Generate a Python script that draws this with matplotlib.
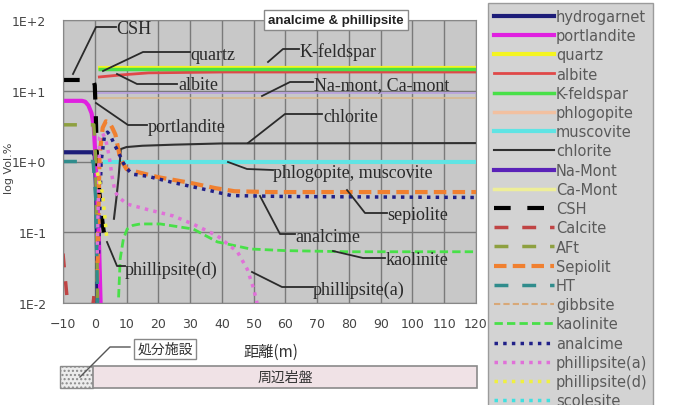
import numpy as np
import matplotlib
matplotlib.use("Agg")
import matplotlib.pyplot as plt
from matplotlib.lines import Line2D
from matplotlib.patches import Rectangle
from matplotlib.transforms import Affine2D

nan = np.nan

# ---- data ----
names = ["hydrogarnet", "portlandite", "quartz", "albite", "K-feldspar", "phlogopite",
         "muscovite", "chlorite", "Na-Mont", "Ca-Mont", "CSH", "Calcite", "AFt", "Sepiolit",
         "HT", "gibbsite", "kaolinite", "analcime", "phillipsite(a)", "phillipsite(d)", "scolesite"]

hydrogarnet_x = [-10, -0.5, 0, 0.5, 1.0]
hydrogarnet_y = [1.35, 1.35, 1.2, 0.3, 0.005]
portlandite_x = [-10, -4, -3, -2, -1, -0.3, 0.3, 0.8, 1.3, 2.0]
portlandite_y = [7.2, 7.2, 7.0, 6.2, 4.8, 3.0, 1.0, 0.3, 0.08, 0.005]
quartz_x = [1, 120]
quartz_y = [21, 21]
albite_x = [1, 8, 17, 40, 120]
albite_y = [15.6, 16.7, 17.9, 18.4, 18.4]
kfeldspar_x = [1, 120]
kfeldspar_y = [20, 20]
phlogopite_x = [2.5, 120]
phlogopite_y = [1.0, 1.0]
muscovite_x = [2.5, 120]
muscovite_y = [1.0, 1.0]
chlorite_x = [6.0, 6.8, 7.5, 8.2, 10, 15, 25, 40, 120]
chlorite_y = [0.15, 0.3, 0.6, 1.5, 1.6, 1.67, 1.73, 1.8, 1.82]
namont_x = [0, 120]
namont_y = [9.3, 9.3]
camont_x = [0, 120]
camont_y = [8.0, 8.0]
csh_x = [-10, -0.5, 0, 0.3, 0.6, 1.0, 1.5, 2.0, 2.5, 3.0]
csh_y = [14.2, 14.2, 12, 5, 1.5, 0.6, 0.35, 0.2, 0.13, 0.09]
calcite_x = [-10, -9.4, -8.8, -8.5, nan, -0.8, -0.4, 0.1]
calcite_y = [0.05, 0.025, 0.013, 0.009, nan, 0.008, 0.011, 0.019]
aft_x = [-10, -0.3, 0.3, 1.0]
aft_y = [3.3, 3.3, 1.0, 0.005]
sepiolit_x = [0.8, 1.5, 2.5, 3.5, 4.5, 5.5, 6.5, 8, 10, 14, 20, 30, 38, 44, 55, 120]
sepiolit_y = [0.02, 1.2, 3.0, 3.7, 3.6, 3.0, 2.4, 1.1, 0.78, 0.7, 0.6, 0.5, 0.42, 0.38, 0.37, 0.37]
ht_x = [-10, -0.5, 0.3, 1.0]
ht_y = [1.0, 1.0, 0.3, 0.005]
gibbsite_x = []
gibbsite_y = []
kaolinite_x = [7.5, 8, 9, 10.2, 12, 14.3, 20.6, 31, 38.6, 49, 60, 80, 120]
kaolinite_y = [0.012, 0.042, 0.08, 0.111, 0.125, 0.131, 0.131, 0.111, 0.073, 0.058, 0.055, 0.053, 0.053]
analcime_x = [1.2, 2, 3, 4, 5, 6, 7.4, 9, 10.2, 12, 16.5, 25, 35, 43, 60, 120]
analcime_y = [0.05, 1.0, 2.2, 2.6, 2.3, 1.8, 1.36, 0.95, 0.78, 0.66, 0.62, 0.5, 0.4, 0.33, 0.32, 0.31]
phila_x = [0.8, 1.5, 2.5, 3.5, 4.5, 5.5, 6.4, 8, 10.2, 16.5, 24.7, 31, 38.6, 44.9, 48, 50, 51.2]
phila_y = [0.05, 2.2, 2.5, 2.0, 1.2, 0.6, 0.37, 0.3, 0.25, 0.21, 0.17, 0.13, 0.089, 0.053, 0.030, 0.016, 0.0095]
phild_x = [0.8, 1.3, 2.0, 2.6, 3.2, 3.6, 3.9]
phild_y = [0.7, 0.55, 0.45, 0.3, 0.16, 0.1, 0.075]
scolesite_x = []
scolesite_y = []

xs = [hydrogarnet_x, portlandite_x, quartz_x, albite_x, kfeldspar_x, phlogopite_x,
      muscovite_x, chlorite_x, namont_x, camont_x, csh_x, calcite_x, aft_x, sepiolit_x,
      ht_x, gibbsite_x, kaolinite_x, analcime_x, phila_x, phild_x, scolesite_x]
ys = [hydrogarnet_y, portlandite_y, quartz_y, albite_y, kfeldspar_y, phlogopite_y,
      muscovite_y, chlorite_y, namont_y, camont_y, csh_y, calcite_y, aft_y, sepiolit_y,
      ht_y, gibbsite_y, kaolinite_y, analcime_y, phila_y, phild_y, scolesite_y]

# styles: colour, linewidth, linestyle
LONG = (0, (4, 4))
SHORT = (0, (3, 1.5))
DOT = (0, (1, 1.5))
styles = [
    ("#1c1c78", 3, "-"), ("#e020e0", 3, "-"), ("#f4f420", 3, "-"), ("#e04848", 2, "-"),
    ("#48e048", 2.5, "-"), ("#f2c0a0", 2.5, "-"), ("#60e4e4", 3, "-"), ("#303030", 1.5, "-"),
    ("#5a22b8", 3, "-"), ("#eeee98", 2.5, "-"), ("#000000", 3, LONG), ("#c04444", 2.5, LONG),
    ("#8ea040", 2.5, LONG), ("#f08030", 3, SHORT), ("#308c8c", 2.5, LONG), ("#d8a878", 1.5, SHORT),
    ("#48e048", 2, SHORT), ("#202088", 2.5, DOT), ("#e070d8", 2.5, DOT), ("#f0f040", 2.5, DOT),
    ("#40e0e0", 2.5, DOT)]
# thin lines inside the plot for the montmorillonites
plot_override = {"Na-Mont": ("#b8a0e0", 1.2), "Ca-Mont": ("#d8b890", 1.2)}

W, H = 678, 406
fig = plt.figure(figsize=(W / 100, H / 100), dpi=100)
fig.patch.set_facecolor("white")
px = Affine2D().scale(1 / W, -1 / H).translate(0, 1) + fig.transFigure

ax = fig.add_axes([63 / W, 1 - 304 / H, (476 - 63) / W, (304 - 21) / H])
ax.set_facecolor("#c8c8c8")
ax.set_yscale("log")
ax.set_xlim(-10, 120)
ax.set_ylim(0.01, 100)
ax.set_xticks(np.arange(-10, 121, 10))
ax.set_yticks([0.01, 0.1, 1, 10, 100])
ax.set_yticklabels(["1E-2", "1E-1", "1E+0", "1E+1", "1E+2"])
ax.minorticks_off()
ax.grid(True, color="#7a7a7a", lw=1)
ax.set_axisbelow(True)
ax.tick_params(length=0, labelsize=9, colors="#444444")
ax.tick_params(axis="x", pad=10)
ax.tick_params(axis="y", pad=12)
for s in ax.spines.values():
    s.set_color("#888888")

for i in range(len(names)):
    c, lw, ls = styles[i]
    if names[i] in plot_override:
        c, lw = plot_override[names[i]]
    ax.plot(xs[i], ys[i], color=c, lw=lw, linestyle=ls, solid_capstyle="butt")

# legend
handles = [Line2D([], [], color=c, lw=lw, linestyle=ls) for c, lw, ls in styles]
leg = fig.legend(handles, names, loc="upper left", bbox_to_anchor=(488 / W, 1 - 4 / H),
                 fontsize=10.5, frameon=True, fancybox=False, handlelength=4.1,
                 handletextpad=0.15, labelspacing=0.29, borderpad=0.4, borderaxespad=0)
leg.get_frame().set_facecolor("#c8c8c8")
leg.get_frame().set_edgecolor("#888888")
for t in leg.get_texts():
    t.set_color("#5a5a5a")

# leader lines and labels
serif = dict(family="Liberation Serif", fontsize=13, color="#2a2a2a", transform=px)
labels = [
    ("CSH", 116, 29, [(116, 28), (96, 28), (73, 75)]),
    ("quartz", 190, 56, [(190, 53), (143, 53), (103, 72)]),
    ("albite", 178, 86, [(177, 85), (137, 85), (117, 75)]),
    ("K-feldspar", 300, 52, [(299, 50), (283, 50), (268, 63)]),
    ("Na-mont, Ca-mont", 314, 86, [(313, 83), (290, 83), (262, 97)]),
    ("portlandite", 148, 128, [(147, 126), (128, 126), (96, 104)]),
    ("chlorite", 323, 117, [(322, 115), (285, 115), (248, 144)]),
    ("phlogopite, muscovite", 273, 174, [(273, 171), (247, 170), (228, 163)]),
    ("sepiolite", 387, 216, [(387, 214), (365, 214), (347, 191)]),
    ("analcime", 295, 238, [(295, 235), (280, 235), (260, 197)]),
    ("kaolinite", 386, 261, [(385, 259), (363, 259), (333, 252)]),
    ("phillipsite(a)", 313, 290, [(313, 288), (282, 288), (252, 273)]),
    ("phillipsite(d)", 125, 270, [(125, 267), (117, 267), (107, 243)]),
]
for txt, tx, ty, pts in labels:
    fig.text(tx, ty, txt, ha="left", va="center", **serif)
    pts = np.array(pts)
    fig.add_artist(Line2D(pts[:, 0], pts[:, 1], color="#2a2a2a", lw=1.3, transform=px))

fig.text(336, 21, "analcime & phillipsite", transform=px, ha="center", va="center",
         fontsize=9.5, fontweight="bold", family="Liberation Sans", color="#222222",
         bbox=dict(boxstyle="square,pad=0.3", fc="white", ec="#888888", lw=1))

# axis labels
fig.text(9, 168, "log Vol.%", transform=px, rotation=90, ha="center", va="center",
         fontsize=8, color="#444444")
fig.text(271, 352, "距離(m)", transform=px, ha="center", va="center", fontsize=11,
         family=["Noto Sans CJK JP", "DejaVu Sans"], color="#333333")

# site strip at the bottom
fig.add_artist(Rectangle((60, 389), 33, -22, transform=px, fc="#ececec", ec="#8a8a8a",
                         lw=1, hatch="....", zorder=1))
fig.add_artist(Rectangle((93, 389), 384, -22, transform=px, fc="#f0e2e6", ec="#8a8a8a",
                         lw=1.2, zorder=1))
fig.text(285, 378, "周辺岩盤", transform=px, ha="center", va="center", fontsize=10,
         family=["Noto Sans CJK JP", "DejaVu Sans"], color="#333333")
fig.text(165, 350, "処分施設", transform=px, ha="center", va="center", fontsize=10,
         family=["Noto Sans CJK JP", "DejaVu Sans"], color="#333333",
         bbox=dict(boxstyle="square,pad=0.25", fc="white", ec="#888888", lw=1))
fig.add_artist(Line2D([130, 110, 80], [348, 348, 378], color="#555555", lw=1, transform=px))

fig.savefig("out.png", dpi=100)
